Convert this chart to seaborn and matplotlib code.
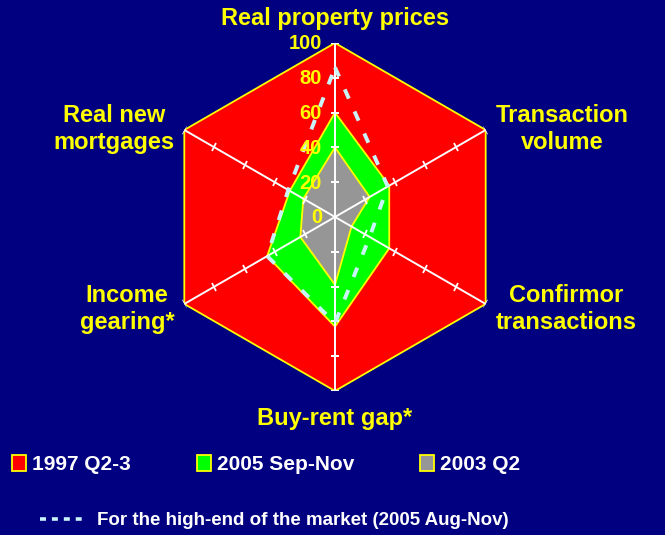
import matplotlib
matplotlib.use('Agg')
import matplotlib.pyplot as plt
from matplotlib.markers import MarkerStyle
from matplotlib.transforms import Affine2D
from matplotlib.patches import Patch
from matplotlib.lines import Line2D
import seaborn as sns
import pandas as pd
import numpy as np

# radar axes, clockwise from the top
categories = ['Real property prices', 'Transaction\nvolume', 'Confirmor\ntransactions',
              'Buy-rent gap*', 'Income\ngearing*', 'Real new\nmortgages']
peak_1997 = [100, 100, 100, 100, 100, 100]
sep_nov_2005 = [60, 36, 36, 63, 45, 30]
q2_2003 = [40, 23, 11, 39, 23, 21]
high_end_2005 = [86, 35, 23, 61, 45, 31]
r_ticks = [0, 20, 40, 60, 80, 100]
series_names = ['1997 Q2-3', '2005 Sep-Nov', '2003 Q2']
high_end_name = 'For the high-end of the market (2005 Aug-Nov)'

navy = '#000080'
yellow = '#ffff00'
fills = ['#ff0000', '#00ff00', '#969696']
dash_col = '#c8f4fa'

sns.set_style('white')
plt.rcParams['font.family'] = ['Liberation Sans', 'DejaVu Sans']
plt.rcParams['font.weight'] = 'bold'

angles = np.deg2rad(np.arange(len(categories)) * 60.0)
theta_closed = np.append(angles, angles[0])

def closed(vals):
    return np.append(vals, vals[0])

fig = plt.figure(figsize=(6.65, 5.35), dpi=100, facecolor=navy)
ax = fig.add_axes([0.2421, 0.2692, 0.5233, 0.6505], projection='polar')
ax.set_theta_zero_location('N')
ax.set_theta_direction(-1)
ax.set_facecolor('none')
ax.grid(False)
ax.spines['polar'].set_visible(False)

for vals, col in zip([peak_1997, sep_nov_2005, q2_2003], fills):
    ax.fill(theta_closed, closed(vals), facecolor=col, edgecolor=yellow, lw=1.3, zorder=2)

# spokes with small cross ticks
for i, a in enumerate(angles):
    ax.plot([a, a], [0, 100], color='white', lw=1.4, zorder=3)
    mk = MarkerStyle('_', transform=Affine2D().rotate_deg(-np.rad2deg(a)))
    ax.plot([a] * (len(r_ticks) - 1), r_ticks[1:], ls='none', marker=mk,
            ms=6, mew=1.3, color='white', zorder=3)

# high-end line drawn with seaborn
he = pd.DataFrame({'theta': theta_closed, 'r': closed(high_end_2005)})
sns.lineplot(data=he, x='theta', y='r', sort=False, estimator=None, ax=ax,
             color=dash_col, lw=2.8, linestyle=(0, (2.6, 3.6)), legend=False, zorder=5)

ax.set_xticks([])
ax.set_yticks([])
ax.set_xlabel('')
ax.set_ylabel('')
ax.set_ylim(0, 100)

for v in r_ticks:
    ax.annotate(str(v), xy=(0, v), xytext=(-13, -1), textcoords='offset pixels',
                ha='right', va='center', color=yellow, fontsize=14.5,
                fontweight='bold', zorder=6, annotation_clip=False)

for lab, a in zip(categories, angles):
    s, c = np.sin(a), np.cos(a)
    if abs(s) < 1e-6:
        ha, dx = 'center', 0
        va, dy = ('bottom', 13) if c > 0 else ('top', -16)
    else:
        ha, dx = ('left', 10) if s > 0 else ('right', -10)
        va, dy = 'center', (1 if c > 0 else -5)
    ax.annotate(lab, xy=(a, 100), xytext=(dx, dy), textcoords='offset pixels',
                ha=ha, va=va, multialignment='center', color=yellow,
                fontsize=17, fontweight='bold', annotation_clip=False)

handles = [Patch(facecolor=col, edgecolor=yellow, lw=1.3) for col in fills]
leg1 = fig.legend(handles, series_names, loc='center left', bbox_to_anchor=(0.018, 0.132),
                  ncol=3, frameon=False, fontsize=15, handlelength=0.67, handleheight=0.82,
                  handletextpad=0.3, columnspacing=3.15, borderpad=0, borderaxespad=0)
for t in leg1.get_texts():
    t.set_color('white')
    t.set_fontweight('bold')

leg2 = fig.legend([Line2D([0], [0], color=dash_col, lw=2.6, linestyle=(0, (1.65, 1.65)))],
                  [high_end_name], loc='center left', bbox_to_anchor=(0.06, 0.027),
                  frameon=False, fontsize=13.5, handlelength=2.3, handletextpad=0.75,
                  borderpad=0, borderaxespad=0)
for t in leg2.get_texts():
    t.set_color('white')
    t.set_fontweight('bold')

fig.savefig('out.png', dpi=100, facecolor=navy)
